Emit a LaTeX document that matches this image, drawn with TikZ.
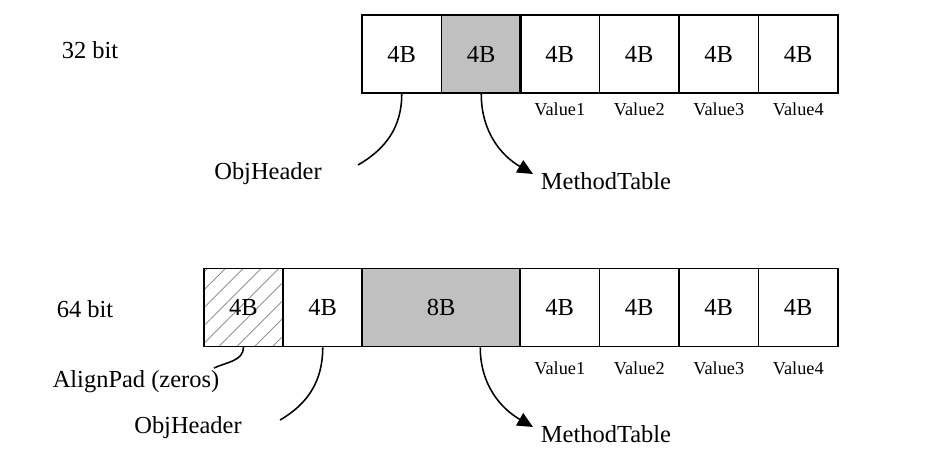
\documentclass[tikz,border=0pt]{standalone}
\usepackage{fontspec}
\setmainfont{Liberation Serif}
\usepackage{xcolor}
\usepackage{tikz}
\usetikzlibrary{positioning,calc,patterns.meta,arrows.meta}

\definecolor{boxgray}{RGB}{192,192,192}
\tikzset{
    cell/.style={draw, line width=1.3pt, minimum width=1.9875cm, minimum height=1.95cm, inner sep=0pt, font=\fontsize{17.4}{20}\selectfont},
    widecell/.style={cell, minimum width=3.95cm},
    vlabel/.style={font=\fontsize{13}{15}\selectfont},
    tlabel/.style={font=\fontsize{17.4}{20}\selectfont},
    pointer/.style={line width=1.1pt},
    arrowptr/.style={pointer, -{Triangle[length=11pt,width=10pt]}}
}

\begin{document}
\begin{tikzpicture}[x=0.025cm, y=-0.025cm]
    \useasboundingbox (0,0) rectangle (927,458);

    % 32 bit
    \node [tlabel] (lbl32) at (90,50) {32 bit};
    \node [cell] (ta) at (401.75,54) {4B};
    \node [cell, fill=boxgray] (tb) at (481.25,54) {4B};
    \node [cell] (tv1) at (559.75,54) {4B};
    \node [cell] (tv2) at (639.25,54) {4B};
    \node [cell] (tv3) at (718.75,54) {4B};
    \node [cell] (tv4) at (798.25,54) {4B};
    \node [vlabel] (tn1) at (559.75,109) {Value1};
    \node [vlabel] (tn2) at (639.25,109) {Value2};
    \node [vlabel] (tn3) at (718.75,109) {Value3};
    \node [vlabel] (tn4) at (798.25,109) {Value4};

    \node [tlabel] (thdr) at (268,174) {ObjHeader};
    \node [tlabel] (tmt) at (606,181) {MethodTable};
    \coordinate (thdrend) at (358,165);
    \coordinate (tmtend) at (533,174);
    \draw [pointer] (ta.south) to[out=-90, in=30] (thdrend);
    \draw [arrowptr] (tb.south) to[out=-90, in=150] (tmtend);

    % 64 bit
    \node [tlabel] (lbl64) at (85,309) {64 bit};
    \node [cell, pattern={Lines[angle=45,distance=9pt,line width=0.5pt]}, pattern color=gray] (ba) at (243.5,307.5) {};
    \node [cell, draw=none] (bpad) at (243.5,307.5) {4B};
    \node [cell] (bb) at (322.75,307.5) {4B};
    \node [widecell, fill=boxgray] (bc) at (441.25,307.5) {8B};
    \node [cell] (bv1) at (559.75,307.5) {4B};
    \node [cell] (bv2) at (639.25,307.5) {4B};
    \node [cell] (bv3) at (718.75,307.5) {4B};
    \node [cell] (bv4) at (798.25,307.5) {4B};
    \node [vlabel] (bn1) at (559.75,368) {Value1};
    \node [vlabel] (bn2) at (639.25,368) {Value2};
    \node [vlabel] (bn3) at (718.75,368) {Value3};
    \node [vlabel] (bn4) at (798.25,368) {Value4};

    \node [tlabel] (bpadtxt) at (136,382) {AlignPad (zeros)};
    \node [tlabel] (bhdr) at (188,428) {ObjHeader};
    \node [tlabel] (bmt) at (606,434) {MethodTable};
    \coordinate (bpadend) at (214,368);
    \coordinate (bhdrend) at (280,420);
    \coordinate (bmtend) at (533,427);
    \draw [pointer] (ba.south) to[out=-90, in=25] (bpadend);
    \draw [pointer] (bb.south) to[out=-90, in=30] (bhdrend);
    \draw [arrowptr] ([xshift=0.975cm]bc.south) to[out=-90, in=150] (bmtend);
\end{tikzpicture}
\end{document}
